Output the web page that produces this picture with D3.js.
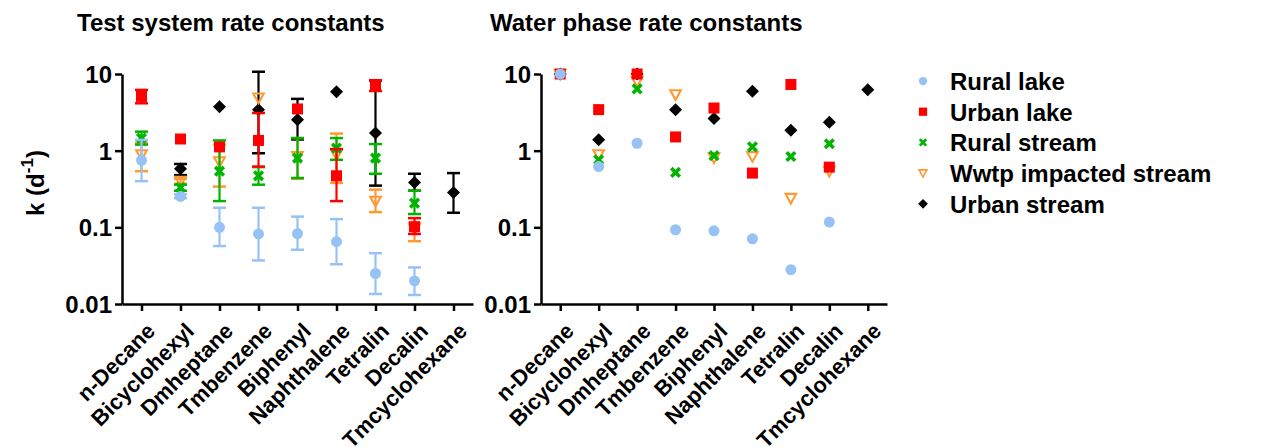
<!DOCTYPE html>
<html>
<head>
<meta charset="utf-8">
<script src="https://cdn.jsdelivr.net/npm/d3@7"></script>
<style>
  body { margin: 0; background: #fff; }
  svg { font-family: "Liberation Sans", Arial, sans-serif; font-weight: bold; }
</style>
</head>
<body>
<svg id="chart" width="1270" height="447"></svg>
<script>
// compounds on the x axis (same for both panels)
const compounds = ["n-Decane", "Bicyclohexyl", "Dmheptane", "Tmbenzene", "Biphenyl",
  "Naphthalene", "Tetralin", "Decalin", "Tmcyclohexane"];
const seriesNames = ["Rural lake", "Urban lake", "Rural stream", "Wwtp impacted stream", "Urban stream"];
const yTicks = [0.01, 0.1, 1, 10];
const yTickLabels = ["0.01", "0.1", "1", "10"];

// test system rate constants: mean, lower and upper end of error bar
const ruralLakeTest   = [0.75, 0.253, 0.10, 0.082, 0.083, 0.065, 0.025, 0.020, null];
const ruralLakeTestLo = [0.40, 0.24, 0.057, 0.037, 0.051, 0.033, 0.0135, 0.0131, null];
const ruralLakeTestHi = [1.38, 0.27, 0.18, 0.18, 0.138, 0.128, 0.046, 0.030, null];

const urbanLakeTest   = [5.1, 1.42, 1.12, 1.36, 3.5, 0.47, 7.1, 0.102, null];
const urbanLakeTestLo = [4.15, null, null, 0.62, null, 0.22, 6.0, 0.082, null];
const urbanLakeTestHi = [6.2, null, null, 3.1, null, 1.05, 8.3, 0.132, null];

const ruralStreamTest   = [1.46, 0.33, 0.54, 0.47, 0.80, 1.08, 0.80, 0.207, null];
const ruralStreamTestLo = [1.2, 0.30, 0.22, 0.36, 0.44, 0.76, 0.50, 0.149, null];
const ruralStreamTestHi = [1.77, 0.36, 1.36, 0.61, 1.46, 1.46, 1.22, 0.30, null];

const wwtpTest   = [0.89, 0.40, 0.72, 4.9, 0.84, 0.89, 0.22, 0.095, null];
const wwtpTestLo = [0.54, 0.37, 0.34, null, 0.43, 0.38, 0.158, 0.066, null];
const wwtpTestHi = [1.26, 0.43, 1.2, null, 1.46, 1.67, 0.31, 0.114, null];

const urbanStreamTest   = [null, 0.58, 3.73, 3.43, 2.54, 5.85, 1.70, 0.385, 0.285];
const urbanStreamTestLo = [null, 0.48, null, 0.925, 1.4, null, 0.35, 0.30, 0.155];
const urbanStreamTestHi = [null, 0.67, null, 10.7, 4.74, null, 8.2, 0.50, 0.51];

// water phase rate constants (no error bars)
const ruralLakeWater   = [10, 0.62, 1.25, 0.093, 0.090, 0.071, 0.028, 0.117, null];
const urbanLakeWater   = [10, 3.43, 10, 1.51, 3.6, 0.51, 7.3, 0.61, null];
const ruralStreamWater = [null, 0.76, 6.4, 0.52, 0.86, 1.12, 0.84, 1.23, null];
const wwtpWater        = [10, 0.89, 8.0, 5.4, 0.81, 0.84, 0.24, 0.54, null];
const urbanStreamWater = [10, 1.39, 10, 3.43, 2.62, 5.95, 1.84, 2.34, 6.25];

const colors = ["#97c2f5", "#ff0000", "#00b400", "#ff9933", "#000000"];
const shapes = ["circle", "square", "cross", "triangle", "diamond"];

const testSeries = [
  [ruralLakeTest, ruralLakeTestLo, ruralLakeTestHi],
  [urbanLakeTest, urbanLakeTestLo, urbanLakeTestHi],
  [ruralStreamTest, ruralStreamTestLo, ruralStreamTestHi],
  [wwtpTest, wwtpTestLo, wwtpTestHi],
  [urbanStreamTest, urbanStreamTestLo, urbanStreamTestHi]
];
const waterSeries = [
  [ruralLakeWater], [urbanLakeWater], [ruralStreamWater], [wwtpWater], [urbanStreamWater]
];

const svg = d3.select("#chart");

function drawMarker(g, shape, color, s) {
  if (shape === "circle") {
    g.append("circle").attr("r", 5.5 * s).attr("fill", color);
  } else if (shape === "square") {
    g.append("rect").attr("x", -5.5 * s).attr("y", -5.5 * s)
      .attr("width", 11 * s).attr("height", 11 * s).attr("fill", color);
  } else if (shape === "cross") {
    const r = 4.3 * s;
    g.append("path").attr("d", `M${-r},${-r}L${r},${r}M${-r},${r}L${r},${-r}`)
      .attr("stroke", color).attr("stroke-width", 3.6 * s).attr("fill", "none");
  } else if (shape === "triangle") {
    const w = 5.3 * s;
    g.append("path").attr("d", `M${-w},${-4.3 * s}L${w},${-4.3 * s}L0,${5.3 * s}Z`)
      .attr("stroke", color).attr("stroke-width", 2.1 * s).attr("fill", "none");
  } else {
    const r = 6.5 * s;
    g.append("path").attr("d", `M0,${-r}L${r},0L0,${r}L${-r},0Z`).attr("fill", color);
  }
}

function drawPanel(left, right, title, titleX, series, showYLabel) {
  const x = d3.scalePoint().domain(compounds).range([left, right]).padding(0.5);
  const y = d3.scaleLog().domain([0.01, 10]).range([304, 74]);

  svg.append("text").attr("x", titleX).attr("y", 31)
    .attr("font-size", 24).text(title);

  const ya = svg.append("g").attr("transform", `translate(${left},0)`)
    .call(d3.axisLeft(y).tickValues(yTicks)
      .tickFormat((d, i) => yTickLabels[i]).tickSize(7).tickSizeOuter(0).tickPadding(3));
  ya.selectAll("text").attr("font-size", 24).attr("font-family", null).attr("font-weight", "bold").attr("dy", "0.36em");

  const xa = svg.append("g").attr("transform", "translate(0,304)")
    .call(d3.axisBottom(x).tickSize(7).tickSizeOuter(0));
  xa.selectAll("text")
    .attr("font-size", 22).attr("font-family", null).attr("font-weight", "bold")
    .attr("text-anchor", "end")
    .attr("transform", "translate(9,23) rotate(-45)")
    .attr("dy", "0.35em").attr("y", 0);
  [ya, xa].forEach(a => {
    a.selectAll("path, line").attr("stroke", "#000").attr("stroke-width", 2.5);
  });

  // later series are drawn first, so Rural lake ends up on top
  for (let si = series.length - 1; si >= 0; si--) {
    const [mean, lo, hi] = series[si];
    const col = colors[si];
    const g = svg.append("g");
    compounds.forEach((c, i) => {
      if (mean[i] == null) return;
      const cx = x(c);
      if (lo && lo[i] != null && hi[i] != null) {
        g.append("line").attr("x1", cx).attr("x2", cx)
          .attr("y1", y(lo[i])).attr("y2", y(hi[i]))
          .attr("stroke", col).attr("stroke-width", 2.2);
        [lo[i], hi[i]].forEach(v => {
          g.append("line").attr("x1", cx - 6.5).attr("x2", cx + 6.5)
            .attr("y1", y(v)).attr("y2", y(v))
            .attr("stroke", col).attr("stroke-width", 2.5);
        });
      }
      const m = g.append("g").attr("transform", `translate(${cx},${y(mean[i])})`);
      drawMarker(m, shapes[si], col, 1);
    });
  }

  if (showYLabel) {
    const t = svg.append("text")
      .attr("transform", `translate(44,${183}) rotate(-90)`)
      .attr("text-anchor", "middle").attr("font-size", 24);
    t.append("tspan").text("k (d");
    t.append("tspan").attr("font-size", 17).attr("dy", -11).text("-1");
    t.append("tspan").attr("dy", 11).text(")");
  }
}

drawPanel(122, 473, "Test system rate constants", 77, testSeries, true);
drawPanel(541, 887, "Water phase rate constants", 490, waterSeries, false);

// legend
const legend = svg.append("g").attr("transform", "translate(923,81)");
seriesNames.forEach((name, i) => {
  const row = legend.append("g").attr("transform", `translate(0,${i * 30.7})`);
  drawMarker(row, shapes[i], colors[i], 0.75);
  row.append("text").attr("x", 27).attr("y", 9).attr("font-size", 24).text(name);
});
</script>
</body>
</html>
